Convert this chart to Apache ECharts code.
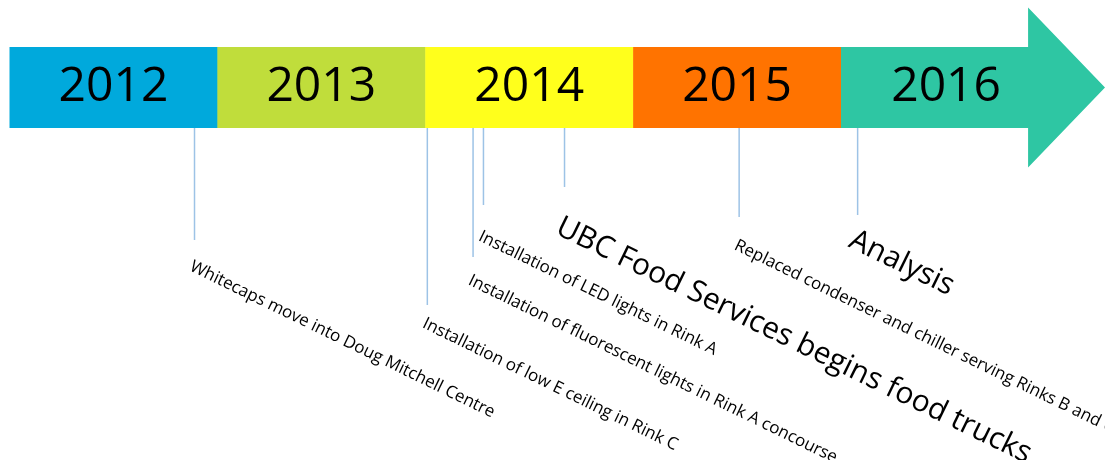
<!DOCTYPE html>
<html>
<head>
<meta charset="utf-8">
<script src="https://cdn.jsdelivr.net/npm/echarts@6/dist/echarts.min.js"></script>
<style>
    html, body { margin: 0; padding: 0; background: #fff; }
    #chart { width: 1105px; height: 460px; }
</style>
</head>
<body>
<div id="chart"></div>
<script>
    // year bands along the arrow
    var years = ['2012', '2013', '2014', '2015', '2016'];
    var yearStart = [2012, 2013, 2014, 2015, 2016];
    var yearEnd = [2013, 2014, 2015, 2016, 2016.9];
    var arrowTip = 2017.27;

    // events hanging under the arrow (date as decimal year)
    var eventNames = [
        'Whitecaps move into Doug Mitchell Centre',
        'Installation of low E ceiling in Rink C',
        'Installation of fluorescent lights in Rink A concourse',
        'Installation of LED lights in Rink A',
        'UBC Food Services begins food trucks',
        'Replaced condenser and chiller serving Rinks B and C',
        'Analysis'
    ];
    var eventDates = [2012.89, 2014.01, 2014.23, 2014.28, 2014.67, 2015.51, 2016.08];

    // layout only (pixels): where each stem stops and its label starts
    var stemEnd = [240, 305, 257, 205, 187, 217, 215];
    var labelTop = [258, 315, 272, 228, 212, 237, 225];
    var labelBig = [false, false, false, false, true, false, true];

    var bandColors = ['#00a9dc', '#c0dd3b', '#ffff1c', '#ff7300', '#2ec6a3'];
    var BAR_TOP = 47, BAR_BOTTOM = 128;
    var HEAD_HALF = 80;
    var FONT = '"Open Sans", sans-serif';

    var myChart = echarts.init(document.getElementById('chart'));

    var bandData = [];
    for (var i = 0; i < years.length; i++) {
        bandData.push([yearStart[i], yearEnd[i], i]);
    }
    var eventData = [];
    for (var j = 0; j < eventDates.length; j++) {
        eventData.push([eventDates[j], 0, j]);
    }

    function renderBand(params, api) {
        var i = api.value(2);
        var x0 = api.coord([api.value(0), 0])[0];
        var x1 = api.coord([api.value(1), 0])[0];
        var mid = (BAR_TOP + BAR_BOTTOM) / 2;
        var shape, tx;
        if (i === years.length - 1) {
            // last band carries the arrow head
            var xt = api.coord([arrowTip, 0])[0];
            shape = {
                type: 'polygon',
                shape: { points: [
                    [x0, BAR_TOP], [x1, BAR_TOP], [x1, mid - HEAD_HALF],
                    [xt, mid], [x1, mid + HEAD_HALF],
                    [x1, BAR_BOTTOM], [x0, BAR_BOTTOM]
                ] },
                style: { fill: bandColors[i] }
            };
            tx = (x0 + x1 + (xt - x1) * 0.3) / 2;
        } else {
            shape = {
                type: 'rect',
                shape: { x: x0, y: BAR_TOP, width: x1 - x0 + 0.5, height: BAR_BOTTOM - BAR_TOP },
                style: { fill: bandColors[i] }
            };
            tx = (x0 + x1) / 2;
        }
        return {
            type: 'group',
            children: [shape, {
                type: 'text',
                x: tx,
                y: mid,
                style: {
                    text: years[i],
                    fontFamily: FONT,
                    fontSize: 48,
                    fill: '#000',
                    align: 'center',
                    verticalAlign: 'middle'
                }
            }]
        };
    }

    function renderEvent(params, api) {
        var k = api.value(2);
        var x = api.coord([api.value(0), 0])[0];
        return {
            type: 'group',
            children: [{
                type: 'line',
                shape: { x1: x, y1: BAR_BOTTOM, x2: x, y2: stemEnd[k] },
                style: { stroke: '#9dc3e6', lineWidth: 1.5 }
            }, {
                type: 'text',
                x: x,
                y: labelTop[k],
                rotation: -26 * Math.PI / 180,
                style: {
                    text: eventNames[k],
                    fontFamily: FONT,
                    fontSize: labelBig[k] ? 30 : 17,
                    fill: '#000',
                    align: 'left',
                    verticalAlign: 'top'
                }
            }]
        };
    }

    var option = {
        animation: false,
        grid: { left: 9.5, right: 0, top: 0, bottom: 0 },
        xAxis: { type: 'value', min: 2012, max: arrowTip, show: false },
        yAxis: { type: 'value', min: 0, max: 1, show: false },
        series: [
            {
                type: 'custom',
                renderItem: renderBand,
                clip: false,
                encode: { x: [0, 1] },
                data: bandData
            },
            {
                type: 'custom',
                renderItem: renderEvent,
                clip: false,
                encode: { x: 0 },
                data: eventData
            }
        ]
    };

    myChart.setOption(option);
</script>
</body>
</html>
